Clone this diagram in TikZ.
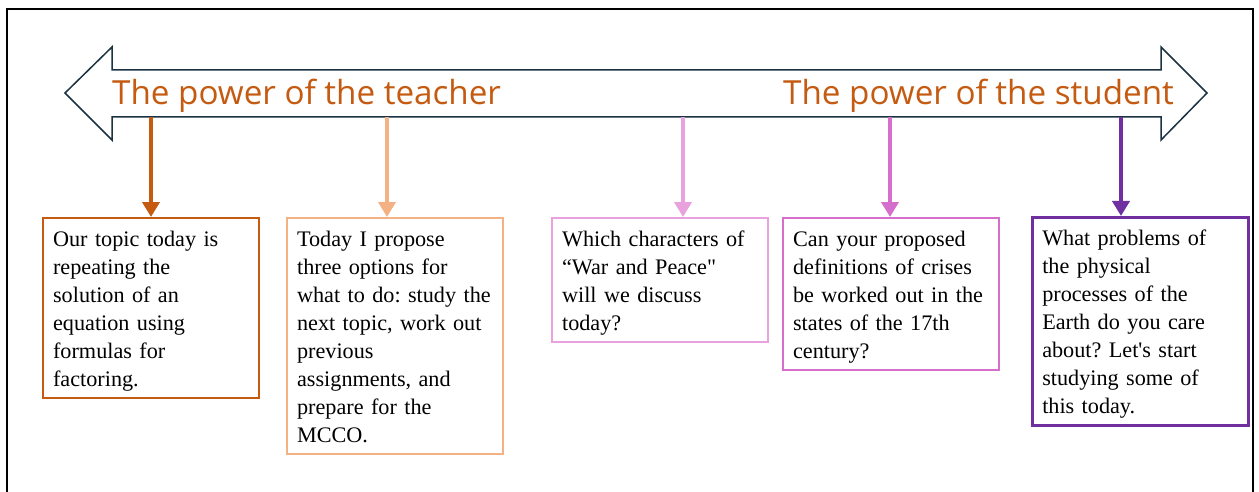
\documentclass[tikz,border=0pt]{standalone}
\usepackage{fontspec}
\usetikzlibrary{arrows.meta}
\newfontfamily\titlefont{Open Sans}
\newfontfamily\boxfont{Liberation Serif}
\definecolor{scaleedge}{HTML}{1B3242}
\definecolor{titlecol}{HTML}{C55A11}
\definecolor{stepA}{HTML}{C55A11}
\definecolor{stepB}{HTML}{F4B183}
\definecolor{stepC}{HTML}{E8A2DE}
\definecolor{stepD}{HTML}{D66FCC}
\definecolor{stepE}{HTML}{7030A0}
\frenchspacing
% struts that fix the first baseline and the bottom padding of each card
\newcommand\firststrut{\rule{0pt}{22pt}}
\newcommand\laststrut{\rule[-6pt]{0pt}{6pt}}
\tikzset{
  card/.style={draw=#1, line width=2.2pt, fill=white, anchor=north west,
    text width=196pt, inner xsep=10pt, inner ysep=6pt, align=left,
    font=\boxfont\fontsize{22.2}{28}\selectfont, text=black},
  link/.style={draw=#1, line width=4pt, -{Triangle[width=17pt,length=15pt]}},
  scaletitle/.style={font=\titlefont\fontsize{33.2}{40}\selectfont,
    text=titlecol, anchor=base west, inner sep=0pt},
  scalearrow/.style={draw=scaleedge, line width=1.5pt, fill=white, line join=miter}
}
\begin{document}
\begin{tikzpicture}[x=1pt, y=-1pt]
\useasboundingbox (0,0) rectangle (1259,492);
% outer frame (open at the bottom)
\draw[line width=2pt] (7,492) -- (7,9) -- (1253,9) -- (1253,492);

% double-headed scale arrow
\draw[scalearrow] (65,93) -- (112,47) -- (112,70) -- (1161,70) -- (1161,47)
  -- (1207,93) -- (1161,140) -- (1161,117) -- (112,117) -- (112,140) -- cycle;
\node[scaletitle] (teacher) at (112,105) {The power of the teacher};
\node[scaletitle] (student) at (783,105) {The power of the student};

% start points of the connectors on the lower edge of the scale
\coordinate (s1) at (151,117);
\coordinate (s2) at (387,117);
\coordinate (s3) at (683,117);
\coordinate (s4) at (890,117);
\coordinate (s5) at (1121,117);

% cards
\node[card=stepA] (c1) at (42,217) {\firststrut Our topic today is\\ repeating the\\ solution of an\\ equation using\\ formulas for\\ factoring.\laststrut};
\node[card=stepB] (c2) at (286,217) {\firststrut Today I propose\\ three options for\\ what to do: study the\\ next topic, work out\\ previous\\ assignments, and\\ prepare for the\\ MCCO.\laststrut};
\node[card=stepC] (c3) at (551,217) {\firststrut Which characters of\\ “War and Peace"\\ will we discuss\\ today?\laststrut};
\node[card=stepD] (c4) at (782,217) {\firststrut Can your proposed\\ definitions of crises\\ be worked out in the\\ states of the 17th\\ century?\laststrut};
\node[card=stepE, line width=2.5pt] (c5) at (1031,216) {\firststrut What problems of\\ the physical\\ processes of the\\ Earth do you care\\ about? Let's start\\ studying some of\\ this today.\laststrut};

% connectors
\draw[link=stepA] (s1) -- (s1 |- c1.north);
\draw[link=stepB] (s2) -- (s2 |- c2.north);
\draw[link=stepC] (s3) -- (s3 |- c3.north);
\draw[link=stepD] (s4) -- (s4 |- c4.north);
\draw[link=stepE, line width=4.5pt] (s5) -- (s5 |- c5.north);
\end{tikzpicture}
\end{document}
